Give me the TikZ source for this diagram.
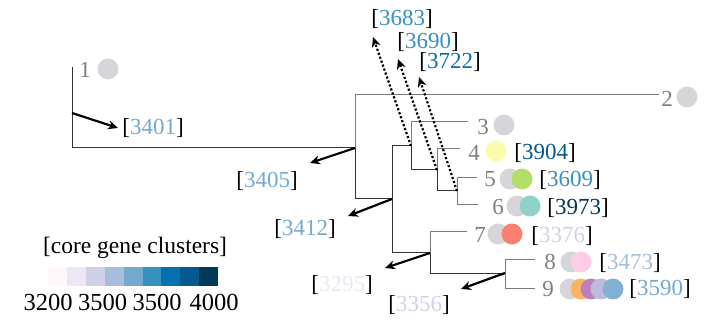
\documentclass[tikz,border=0pt]{standalone}
\usepackage{fontspec}
\setmainfont{Liberation Serif}
\usetikzlibrary{arrows.meta}
\definecolor{pb1}{HTML}{FFF7FB}
\definecolor{pb2}{HTML}{ECE7F2}
\definecolor{pb3}{HTML}{D0D1E6}
\definecolor{pb4}{HTML}{A6BDDB}
\definecolor{pb5}{HTML}{74A9CF}
\definecolor{pb6}{HTML}{3690C0}
\definecolor{pb7}{HTML}{0570B0}
\definecolor{pb8}{HTML}{045A8D}
\definecolor{pb9}{HTML}{023858}
\definecolor{sgray}{HTML}{D6D6DA}
\definecolor{syellow}{HTML}{FBFBAE}
\definecolor{sgreen}{HTML}{B3DE69}
\definecolor{steal}{HTML}{8DD3C7}
\definecolor{sred}{HTML}{FB8072}
\definecolor{spink}{HTML}{FCCDE5}
\definecolor{sorange}{HTML}{FDB462}
\definecolor{spurple}{HTML}{BC80BD}
\definecolor{slav}{HTML}{BEBADA}
\definecolor{sblue}{HTML}{80B1D3}
\definecolor{branch}{HTML}{333333}
\definecolor{leafline}{HTML}{7A7A7A}
\definecolor{numgray}{HTML}{808080}
\tikzset{
  edge/.style={draw=branch, line width=1pt},
  leafedge/.style={draw=leafline, line width=1pt},
  gain/.style={-{Stealth[length=10pt,width=9pt]}, line width=2.2pt, black},
  dotgain/.style={-{Stealth[length=10pt,width=9pt]}, line width=2.2pt, black, dash pattern=on 2.2pt off 2pt},
  leafnum/.style={text=numgray, inner sep=0pt, font=\fontsize{23}{24}\selectfont},
  count/.style={inner sep=0pt, font=\fontsize{23}{24}\selectfont},
  scalenum/.style={inner sep=0pt, font=\fontsize{24.5}{26}\selectfont},
  dot/.style={circle, minimum size=21pt, inner sep=0pt, fill=#1}
}
\begin{document}
\begin{tikzpicture}[x=1pt,y=-1pt]
\useasboundingbox (0,0) rectangle (705,326);

% tree nodes
\coordinate (R) at (72,148);
\coordinate (A) at (355,148);
\coordinate (B) at (392,199);
\coordinate (C) at (411,146);
\coordinate (D) at (437,170);
\coordinate (E) at (457,191);
\coordinate (F) at (430,253);
\coordinate (G) at (505,273);
\coordinate (l1) at (72,67);
\coordinate (l2) at (659,95);
\coordinate (l3) at (468,122);
\coordinate (l4) at (460,149);
\coordinate (l5) at (477,178);
\coordinate (l6) at (478,205);
\coordinate (l7) at (467,232);
\coordinate (l8) at (535,260);
\coordinate (l9) at (535,288);

% internal branches
\draw[edge] (R) -- (l1);
\draw[edge] (R) -- (A);
\draw[edge] (A) |- (B);
\draw[edge] (B) |- (C);
\draw[edge] (B) |- (F);
\draw[edge] (C) |- (D);
\draw[edge] (D) |- (E);
\draw[edge] (F) |- (G);
% terminal branches
\draw[leafedge] (A) |- (l2);
\draw[leafedge] (C) |- (l3);
\draw[leafedge] (D) |- (l4);
\draw[leafedge] (E) |- (l5);
\draw[leafedge] (E) |- (l6);
\draw[leafedge] (F) |- (l7);
\draw[leafedge] (G) |- (l8);
\draw[leafedge] (G) |- (l9);

% leaf numbers
\node[leafnum] (n1) at (85,70) {1};
\node[leafnum] (n2) at (667,99) {2};
\node[leafnum] (n3) at (483,127) {3};
\node[leafnum] (n4) at (474,153) {4};
\node[leafnum] (n5) at (490,179) {5};
\node[leafnum] (n6) at (498,207) {6};
\node[leafnum] (n7) at (480,235) {7};
\node[leafnum] (n8) at (550,262) {8};
\node[leafnum] (n9) at (548,289) {9};

% genome dots
\node[dot=sgray] (c1) at (108,69) {};
\node[dot=sgray] (c2) at (687,97) {};
\node[dot=sgray] (c3) at (504,125) {};
\node[dot=syellow] (c4) at (496,151) {};
\node[dot=sgray] (c5a) at (510,179) {};
\node[dot=sgreen] (c5b) at (522,179) {};
\node[dot=sgray] (c6a) at (517,206) {};
\node[dot=steal] (c6b) at (530,206) {};
\node[dot=sgray] (c7a) at (498,234) {};
\node[dot=sred] (c7b) at (512,234) {};
\node[dot=sgray] (c8a) at (571,262) {};
\node[dot=spink] (c8b) at (581,262) {};
\node[dot=sgray] (c9a) at (570,289) {};
\node[dot=sorange] (c9b) at (581,289) {};
\node[dot=spurple] (c9c) at (591,289) {};
\node[dot=slav] (c9d) at (601,289) {};
\node[dot=sblue] (c9e) at (613,289) {};

% cluster counts
\node[count] (k3401) at (153,128) {[{\color{pb5}3401}]};
\node[count] (k3405) at (267,181) {[{\color{pb5}3405}]};
\node[count] (k3412) at (305,229) {[{\color{pb5}3412}]};
\node[count] (k3295) at (342,285) {[{\color{pb2}3295}]};
\node[count] (k3356) at (419,305) {[{\color{pb3}3356}]};
\node[count] (k3683) at (402,19) {[{\color{pb6}3683}]};
\node[count] (k3690) at (428,42) {[{\color{pb6}3690}]};
\node[count] (k3722) at (450,62) {[{\color{pb7}3722}]};
\node[count] (k3904) at (545,153) {[{\color{pb8}3904}]};
\node[count] (k3609) at (570,180) {[{\color{pb6}3609}]};
\node[count] (k3973) at (578,208) {[{\color{pb9}3973}]};
\node[count] (k3376) at (562,236) {[{\color{pb3}3376}]};
\node[count] (k3473) at (630,263) {[{\color{pb4}3473}]};
\node[count] (k3590) at (660,289) {[{\color{pb5}3590}]};

% gain / loss arrows
\coordinate (s1) at (72,113);
\coordinate (t1) at (118,128);
\coordinate (t2) at (310,163);
\coordinate (t3) at (348,216);
\coordinate (t4) at (385,268);
\coordinate (t5) at (461,289);
\coordinate (u1) at (373,37);
\coordinate (u2) at (398,59);
\coordinate (u3) at (419,77);
\draw[gain] (s1) -- (t1);
\draw[gain] (A) -- (t2);
\draw[gain] (B) -- (t3);
\draw[gain] (F) -- (t4);
\draw[gain] (G) -- (t5);
\draw[dotgain] (C) -- (u1);
\draw[dotgain] (D) -- (u2);
\draw[dotgain] (E) -- (u3);

% colour scale
\node[inner sep=0pt, font=\fontsize{23.5}{25}\selectfont] (ltitle) at (135,248) {[core gene clusters]};
\foreach \i in {1,...,9} {
  \fill[pb\i] ({48+(\i-1)*18.9},267) rectangle ({48+\i*18.9},286);
}
\node[scalenum] (v1) at (48,302) {3200};
\node[scalenum] (v2) at (102.5,302) {3500};
\node[scalenum] (v3) at (157,302) {3500};
\node[scalenum] (v4) at (214,302) {4000};
\end{tikzpicture}
\end{document}
